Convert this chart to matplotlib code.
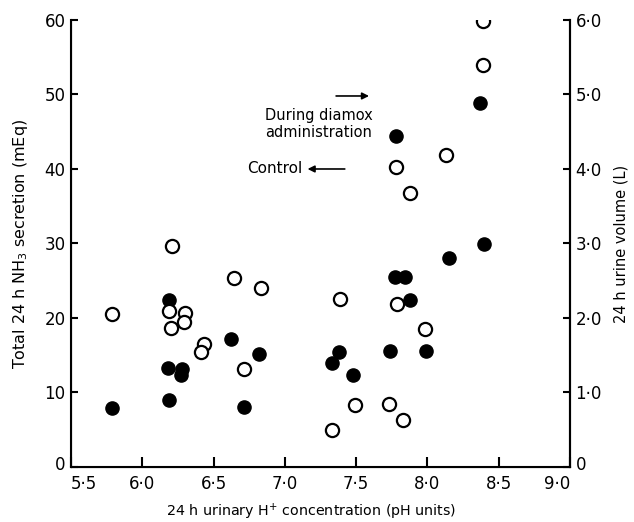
import matplotlib.pyplot as plt
from matplotlib.transforms import ScaledTranslation

plt.rcParams['font.family'] = ['DejaVu Sans']
plt.rcParams['mathtext.default'] = 'regular'

# control (open circles)
ctrl_ph = [5.79, 6.19, 6.20, 6.21, 6.30, 6.29, 6.43, 6.41, 6.64, 6.83, 6.71,
           7.39, 7.79, 7.98, 7.49, 7.73, 7.83, 7.33, 8.39, 8.39, 8.13, 7.78, 7.88]
ctrl_nh3 = [20.5, 21.0, 18.7, 29.6, 20.7, 19.4, 16.5, 15.4, 25.4, 24.0, 13.2,
            22.5, 21.9, 18.5, 8.3, 8.5, 6.3, 4.9, 59.8, 54.0, 41.9, 40.3, 36.8]

# during diamox (filled circles)
dmx_ph = [5.79, 6.19, 6.18, 6.28, 6.27, 6.19, 6.62, 6.82, 6.71, 8.15, 7.77,
          7.84, 7.88, 7.38, 7.33, 7.74, 7.99, 7.48, 8.37, 7.78, 8.40]
dmx_nh3 = [7.9, 22.4, 13.3, 13.2, 12.3, 9.0, 17.2, 15.2, 8.0, 28.1, 25.5,
           25.5, 22.4, 15.5, 14.0, 15.6, 15.6, 12.3, 48.8, 44.4, 29.9]

x_ticks = [5.5, 6.0, 6.5, 7.0, 7.5, 8.0, 8.5, 9.0]
y_ticks = [0, 10, 20, 30, 40, 50, 60]
vol_ticks = [0, 1, 2, 3, 4, 5, 6]


def dot(v):
    return ('%.1f' % v).replace('.', '\u00b7')


fig = plt.figure(figsize=(6.34, 5.22), dpi=100)
ax = fig.add_axes([0.112, 0.1054, 0.787, 0.8563])

ax.scatter(dmx_ph, dmx_nh3, s=90, c='black', edgecolors='black', zorder=3)
ax.scatter(ctrl_ph, ctrl_nh3, s=90, facecolors='white', edgecolors='black',
           linewidths=1.6, zorder=3)

ax.set_xlim(5.5, 9.0)
ax.set_ylim(0, 60)
ax.set_xticks(x_ticks)
ax.set_xticklabels([dot(v) for v in x_ticks])
ax.set_yticks(y_ticks)
ax.set_yticklabels([str(v) for v in y_ticks])
for s in ['left', 'bottom', 'right']:
    ax.spines[s].set_linewidth(1.5)
ax.spines['top'].set_visible(False)
ax.tick_params(axis='x', direction='in', length=7, width=1.5, labelsize=12, pad=6)
ax.tick_params(axis='y', direction='in', length=5, width=1.5, labelsize=12, pad=4)
ax.set_ylabel('Total 24 h NH$_3$ secretion (mEq)', fontsize=11.5, labelpad=10)

# end labels kept clear of the corner zeros
xl = ax.get_xticklabels()
xl[0].set_ha('left')
xl[-1].set_ha('right')
up = ScaledTranslation(0, 3 / 72, fig.dpi_scale_trans)
ax.get_yticklabels()[0].set_transform(ax.get_yticklabels()[0].get_transform() + up)

ax2 = ax.twinx()
ax2.set_ylim(0, 6)
ax2.set_yticks(vol_ticks)
ax2.set_yticklabels(['0'] + [dot(v) for v in vol_ticks[1:]])
ax2.spines['top'].set_visible(False)
ax2.spines['right'].set_linewidth(1.5)
ax2.tick_params(axis='y', direction='in', length=5, width=1.5, labelsize=12, pad=4)
ax2.set_ylabel('24 h urine volume (L)', fontsize=10.5, labelpad=8)
ax2.get_yticklabels()[0].set_transform(ax2.get_yticklabels()[0].get_transform() + up)

fig.text(0.49, 0.02, '24 h urinary H$^{+}$ concentration (pH units)',
         fontsize=10.3, ha='center', va='center')

ax.annotate('', xy=(7.61, 49.8), xytext=(7.34, 49.8),
            arrowprops=dict(arrowstyle='-|>', color='black', lw=1.2,
                            mutation_scale=10))
ax.text(7.24, 46.0, 'During diamox\nadministration', fontsize=10.5,
        ha='center', va='center', linespacing=1.2)
ax.text(7.12, 40.0, 'Control', fontsize=11, ha='right', va='center')
ax.annotate('', xy=(7.14, 40.0), xytext=(7.44, 40.0),
            arrowprops=dict(arrowstyle='-|>', color='black', lw=1.2,
                            mutation_scale=10))

fig.savefig('out.png', dpi=100)
